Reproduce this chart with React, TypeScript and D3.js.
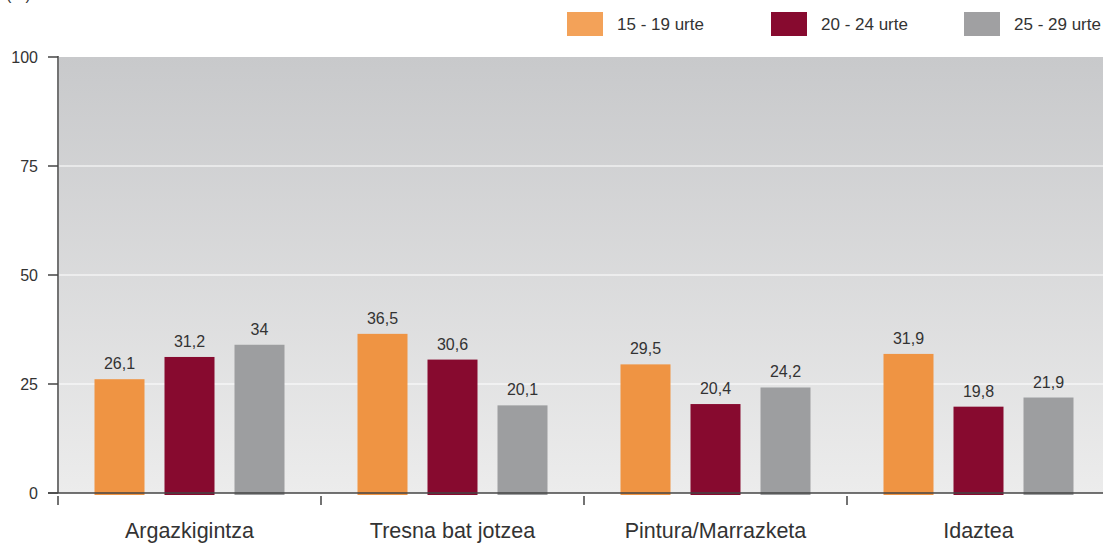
import * as d3 from "d3";
import { useEffect, useRef } from "react";

const categories = ["Argazkigintza", "Tresna bat jotzea", "Pintura/Marrazketa", "Idaztea"];
const series = ["15 - 19 urte", "20 - 24 urte", "25 - 29 urte"];
const values15 = [26.1, 36.5, 29.5, 31.9];
const values20 = [31.2, 30.6, 20.4, 19.8];
const values25 = [34, 20.1, 24.2, 21.9];
const yTicks = [0, 25, 50, 75, 100];

const barColors = ["#ef9443", "#870a2f", "#9d9ea0"];
const legendColors = ["#f3a259", "#870a2f", "#a0a0a2"];

const W = 1103;
const H = 543;
const FONT = "'Liberation Sans', Arial, Helvetica, sans-serif";

const fmt = (v: number) => String(v).replace(".", ",");

const App = () => {
	const ref = useRef<SVGSVGElement>(null);

	useEffect(() => {
		const svg = d3.select(ref.current);
		svg.selectAll("*").remove();

		const left = 58;
		const top = 57;
		const bottom = 493;

		const x = d3.scaleBand().domain(categories).range([left, left + 4 * 263]);
		const y = d3.scaleLinear().domain([0, 100]).range([bottom, top]);

		const defs = svg.append("defs");
		const grad = defs.append("linearGradient")
			.attr("id", "bg")
			.attr("x1", 0).attr("y1", 0).attr("x2", 0).attr("y2", 1);
		grad.append("stop").attr("offset", "0%").attr("stop-color", "#c8c9cb");
		grad.append("stop").attr("offset", "100%").attr("stop-color", "#ececec");

		svg.append("rect")
			.attr("x", left + 1)
			.attr("y", top)
			.attr("width", W - left - 1)
			.attr("height", bottom - top)
			.attr("fill", "url(#bg)");

		// white gridlines
		svg.selectAll(".grid")
			.data(yTicks.filter(t => t > 0 && t < 100))
			.enter()
			.append("line")
			.attr("x1", left + 1)
			.attr("x2", W)
			.attr("y1", d => y(d))
			.attr("y2", d => y(d))
			.attr("stroke", "#ffffff")
			.attr("stroke-width", 1.2);

		const table = [values15, values20, values25];

		categories.forEach((c, ci) => {
			const cx = (x(c) as number) + x.bandwidth() / 2;
			const inner = d3.scaleBand<number>()
				.domain([0, 1, 2])
				.range([cx - 95, cx + 95])
				.paddingInner(2 / 7);

			table.forEach((vals, si) => {
				const v = vals[ci];
				svg.append("rect")
					.attr("x", inner(si) as number)
					.attr("y", y(v))
					.attr("width", inner.bandwidth())
					.attr("height", y(0) - y(v) + 2)
					.attr("fill", barColors[si]);

				svg.append("text")
					.attr("x", (inner(si) as number) + inner.bandwidth() / 2)
					.attr("y", y(v) - 10)
					.attr("text-anchor", "middle")
					.attr("font-family", FONT)
					.attr("font-size", 16)
					.attr("fill", "#333333")
					.text(fmt(v));
			});
		});

		// y axis
		svg.append("line")
			.attr("x1", left).attr("x2", left)
			.attr("y1", top - 1).attr("y2", bottom)
			.attr("stroke", "#444444")
			.attr("stroke-width", 1.5);
		yTicks.forEach(t => {
			svg.append("line")
				.attr("x1", left - 10).attr("x2", left)
				.attr("y1", y(t)).attr("y2", y(t))
				.attr("stroke", "#444444")
				.attr("stroke-width", 1.5);
			svg.append("text")
				.attr("x", left - 20)
				.attr("y", y(t) + 6)
				.attr("text-anchor", "end")
				.attr("font-family", FONT)
				.attr("font-size", 16)
				.attr("fill", "#333333")
				.text(t);
		});

		// x axis
		svg.append("line")
			.attr("x1", left - 10).attr("x2", W)
			.attr("y1", bottom).attr("y2", bottom)
			.attr("stroke", "#444444")
			.attr("stroke-width", 1.5);
		categories.forEach(c => {
			const x0 = x(c) as number;
			svg.append("line")
				.attr("x1", x0).attr("x2", x0)
				.attr("y1", bottom + 3).attr("y2", bottom + 12)
				.attr("stroke", "#444444")
				.attr("stroke-width", 1.5);
			svg.append("text")
				.attr("x", x0 + x.bandwidth() / 2)
				.attr("y", 538)
				.attr("text-anchor", "middle")
				.attr("font-family", FONT)
				.attr("font-size", 21.5)
				.attr("fill", "#333333")
				.text(c);
		});

		// legend
		const legendX = [567, 771, 964];
		series.forEach((s, i) => {
			svg.append("rect")
				.attr("x", legendX[i])
				.attr("y", 12)
				.attr("width", 36)
				.attr("height", 24)
				.attr("fill", legendColors[i]);
			svg.append("text")
				.attr("x", legendX[i] + 50)
				.attr("y", 30)
				.attr("font-family", FONT)
				.attr("font-size", 17)
				.attr("fill", "#333333")
				.text(s);
		});

		// unit label, cut off at the top edge as in the source
		svg.append("text")
			.attr("x", 6)
			.attr("y", 0)
			.attr("font-family", FONT)
			.attr("font-size", 16)
			.attr("fill", "#333333")
			.text("(%)");
	}, []);

	return (
		<svg
			ref={ref}
			width={W}
			height={H}
			style={{ position: "absolute", left: 0, top: 0, background: "#ffffff" }}
		></svg>
	);
};

export default App;
